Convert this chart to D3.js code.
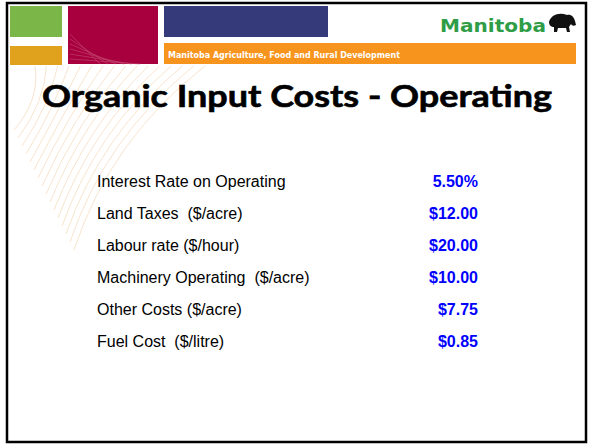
<!DOCTYPE html>
<html>
<head>
<meta charset="utf-8">
<script src="https://cdn.jsdelivr.net/npm/d3@7"></script>
<style>
body{margin:0;background:#fff;}
</style>
</head>
<body>
<script>
const svg_width = 592, svg_height = 445;

// table data
var labels = ["Interest Rate on Operating","Land Taxes  ($/acre)","Labour rate ($/hour)",
              "Machinery Operating  ($/acre)","Other Costs ($/acre)","Fuel Cost  ($/litre)"];
var values = ["5.50%","$12.00","$20.00","$10.00","$7.75","$0.85"];
var title = "Organic Input Costs - Operating";
var banner = "Manitoba Agriculture, Food and Rural Development";

var svg = d3.select("body").append("svg")
			.attr("width",svg_width)
			.attr("height",svg_height);

svg.append("rect").attr("width",svg_width).attr("height",svg_height).attr("fill","#fff");

// faint swirl lines fanning out under the header
var swirl = svg.append("g").attr("fill","none").attr("stroke","#f5d6b2").attr("stroke-width",0.8).attr("opacity",0.8);
for(var i=0;i<16;i++){
	var a = i/15;
	swirl.append("path")
		.attr("d","M"+(35+a*170)+",66 Q"+(40+a*70)+","+(100+a*40)+" "+(14+a*60)+","+(130+a*120));
}

// header blocks
var header = svg.append("g");
header.append("rect").attr("x",10).attr("y",6).attr("width",52).attr("height",31).attr("fill","#7ab648");
header.append("rect").attr("x",10).attr("y",46).attr("width",52).attr("height",19).attr("fill","#e0a21c");
header.append("rect").attr("x",68).attr("y",6).attr("width",90).attr("height",58).attr("fill","#a8003e");
header.append("rect").attr("x",164).attr("y",6).attr("width",164).attr("height",31).attr("fill","#343a7a");
header.append("rect").attr("x",164).attr("y",43).attr("width",412).attr("height",21).attr("fill","#f7941d");
var stripes = header.append("g").attr("stroke","#c24a6e").attr("stroke-width",0.6);
for(var j=0;j<6;j++){
	stripes.append("line").attr("x1",70).attr("y1",34+j*5).attr("x2",100+j*8).attr("y2",64);
}
header.append("text")
	.attr("x",168).attr("y",58)
	.attr("font-family","'Liberation Sans Narrow','DejaVu Sans Condensed',sans-serif")
	.attr("font-size","9.5px").attr("font-weight","bold")
	.attr("fill","#fff")
	.attr("textLength",232).attr("lengthAdjust","spacingAndGlyphs")
	.text(banner);

// Manitoba logo
header.append("text")
	.attr("x",440).attr("y",32)
	.attr("font-family","'DejaVu Sans',sans-serif")
	.attr("font-size","18px").attr("font-weight","bold")
	.attr("fill","#2e9d46")
	.attr("textLength",106).attr("lengthAdjust","spacingAndGlyphs")
	.text("Manitoba");
header.append("path")
	.attr("fill","#111")
	.attr("d","M549,22 C551,14 560,12 567,15 C571,14 574,17 575,21 L576,25 C574,26 572,26 571,24 L569,27 L570,32 L567,32 L566,28 L558,28 L557,32 L554,32 L554,27 C551,27 549,25 549,22 Z");

// slide frame
svg.append("rect")
	.attr("x",7).attr("y",3).attr("width",579).attr("height",439)
	.attr("fill","none").attr("stroke","#000").attr("stroke-width",2.5);

// title
svg.append("text")
	.attr("x",42).attr("y",107)
	.attr("font-family","Lato,'Open Sans',sans-serif")
	.attr("font-weight","bold").attr("font-size","30px")
	.attr("fill","#000").attr("stroke","#000").attr("stroke-width",0.6)
	.attr("textLength",510).attr("lengthAdjust","spacingAndGlyphs")
	.text(title);

// rows
var y = d3.scaleBand().domain(labels).range([165,357]);
var rows = svg.append("g").selectAll("g").data(labels).enter().append("g")
	.attr("transform",function(d){return "translate(0,"+(y(d)+y.bandwidth()/2)+")"});
rows.append("text")
	.attr("x",97).attr("dy","0.36em")
	.attr("font-family","'Liberation Sans',Arial,sans-serif")
	.attr("font-size","16px").attr("fill","#000")
	.style("white-space","pre")
	.text(function(d){return d});
rows.append("text")
	.attr("x",478).attr("dy","0.36em")
	.attr("text-anchor","end")
	.attr("font-family","'Liberation Sans',Arial,sans-serif")
	.attr("font-size","16px").attr("font-weight","bold").attr("fill","#0000ff")
	.text(function(d,i){return values[i]});
</script>
</body>
</html>
